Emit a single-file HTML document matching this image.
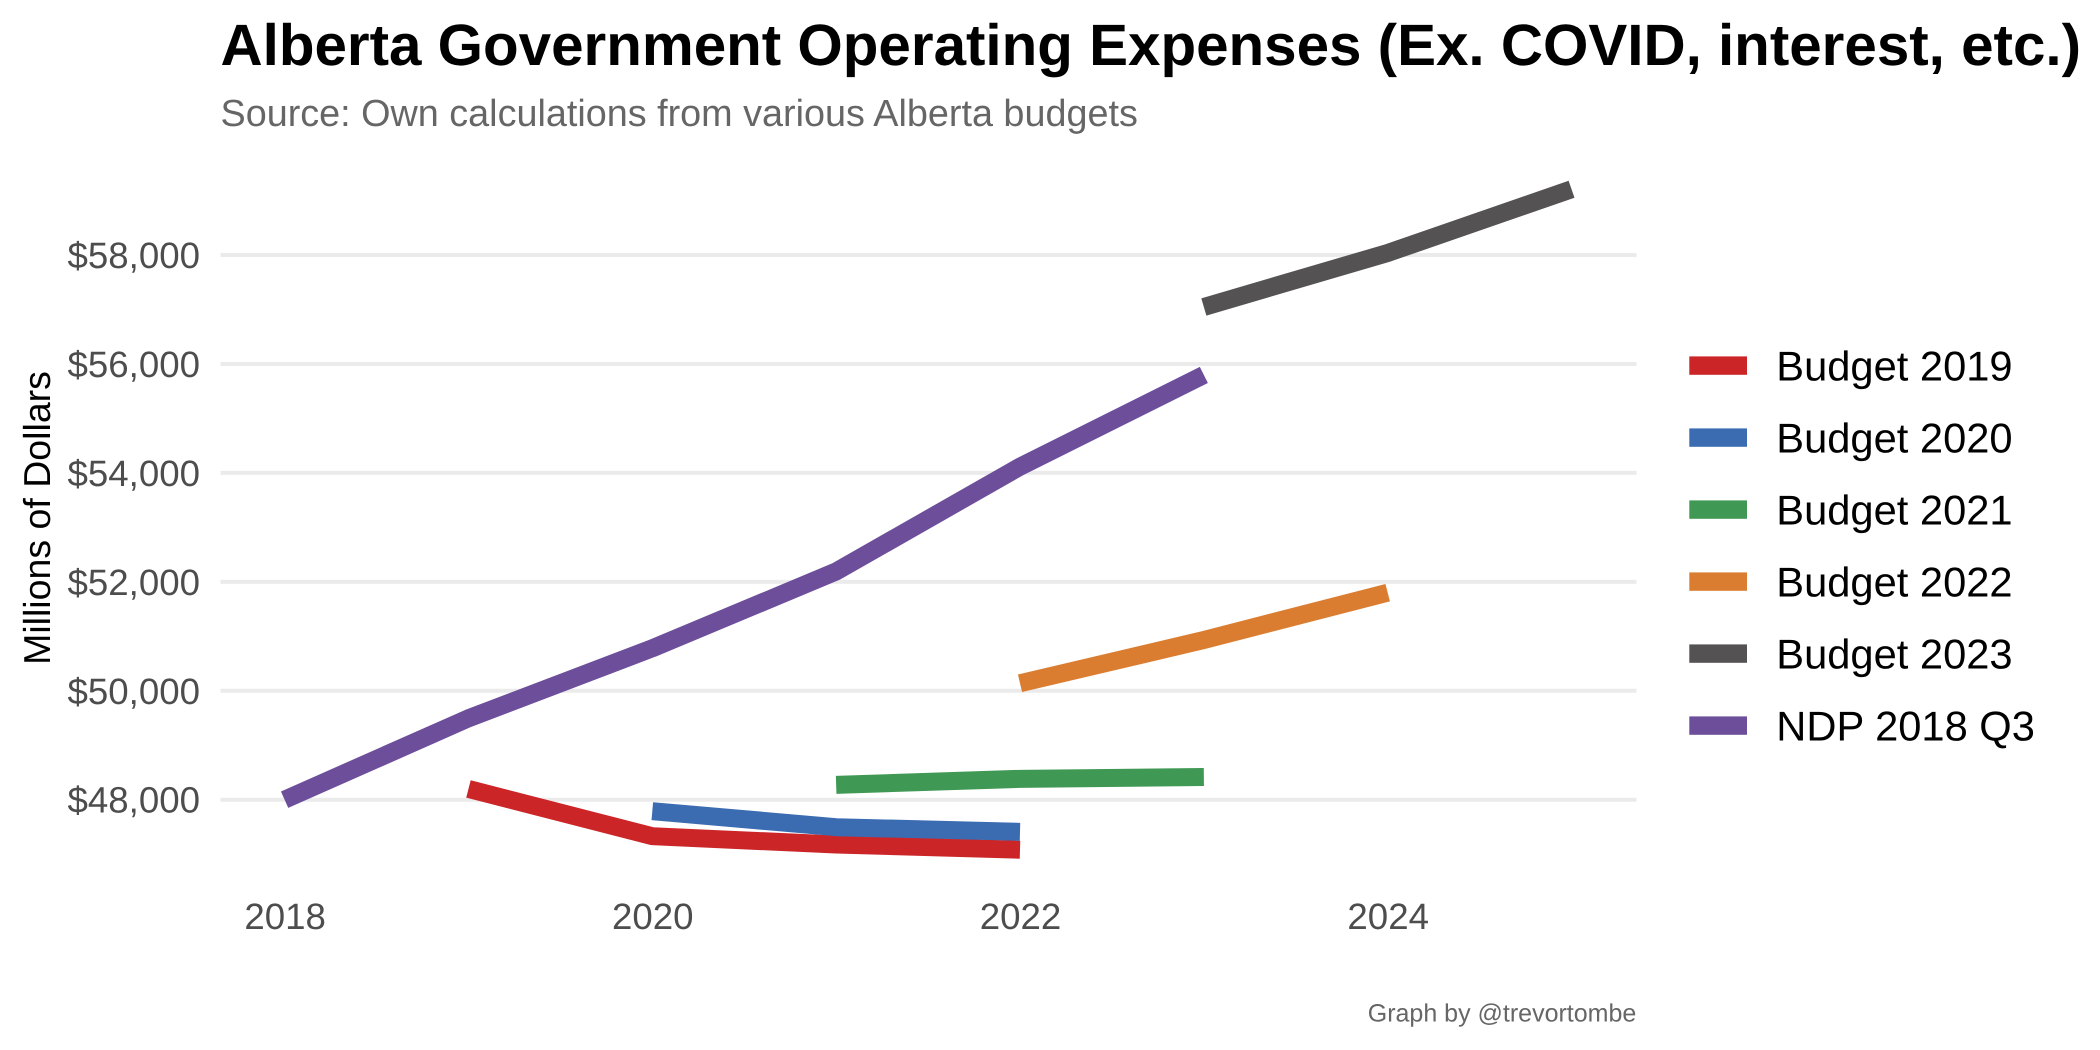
<!DOCTYPE html>
<html lang="en">
<head>
<meta charset="utf-8">
<title>Alberta Government Operating Expenses</title>
<style>
html,body{margin:0;padding:0;background:#fff;}
body{width:2100px;height:1050px;overflow:hidden;}
svg{display:block;}
text{font-family:"Liberation Sans",Arial,sans-serif;text-rendering:geometricPrecision;}
</style>
</head>
<body>
<svg id="chart" xmlns="http://www.w3.org/2000/svg" width="2100" height="1050" viewBox="0 0 2100 1050">
  <rect x="0" y="0" width="2100" height="1050" fill="#ffffff"/>
  <text x="220.5" y="65" font-size="58.33" font-weight="700" fill="#000000">Alberta Government Operating Expenses (Ex. COVID, interest, etc.)</text>
  <text x="220.5" y="126" font-size="37.78" fill="#666666">Source: Own calculations from various Alberta budgets</text>
  <text transform="translate(50,518) rotate(-90)" text-anchor="middle" font-size="37.5" fill="#000000">Millions of Dollars</text>
  <text x="1636.3" y="1021.5" text-anchor="end" font-size="25" fill="#666666">Graph by @trevortombe</text>
  <g id="grid"></g>
  <g id="yticks"></g>
  <g id="xticks"></g>
  <g id="series"></g>
  <g id="legend"></g>
</svg>
<script>
// Axis ticks
const yTickValues = [48000, 50000, 52000, 54000, 56000, 58000];
const xTickValues = [2018, 2020, 2022, 2024];

// Series data (millions of dollars by fiscal year)
const years2019 = [2019, 2020, 2021, 2022];
const values2019 = [48197, 47330, 47177, 47082];
const years2020 = [2020, 2021, 2022];
const values2020 = [47789, 47495, 47410];
const years2021 = [2021, 2022, 2023];
const values2021 = [48273, 48383, 48417];
const years2022 = [2022, 2023, 2024];
const values2022 = [50137, 50932, 51801];
const years2023 = [2023, 2024, 2025];
const values2023 = [57046, 58037, 59207];
const yearsNdp = [2018, 2019, 2020, 2021, 2022, 2023];
const valuesNdp = [48000, 49494, 50780, 52190, 54114, 55798];

const seriesNames = ['Budget 2019', 'Budget 2020', 'Budget 2021', 'Budget 2022', 'Budget 2023', 'NDP 2018 Q3'];
const seriesColors = ['#cb2528', '#3b6bb0', '#3f9853', '#db7d30', '#555254', '#6c4e9a'];
const seriesYears = [years2019, years2020, years2021, years2022, years2023, yearsNdp];
const seriesValues = [values2019, values2020, values2021, values2022, values2023, valuesNdp];

const SVG_NS = 'http://www.w3.org/2000/svg';
const panelLeft = 220.5;
const panelRight = 1636.5;

function xScale(year) {
  return 284.6 + (year - 2018) * 183.85;
}
function yScale(value) {
  return 799.7 - (value - 48000) * 0.05447;
}
function make(tag, parentId) {
  const el = document.createElementNS(SVG_NS, tag);
  document.getElementById(parentId).appendChild(el);
  return el;
}
function slug(s) {
  return s.toLowerCase().replace(/\s+/g, '-');
}

yTickValues.forEach(function (v) {
  const line = make('line', 'grid');
  
  
  line.setAttribute('x1', panelLeft);
  line.setAttribute('x2', panelRight);
  line.setAttribute('y1', yScale(v));
  line.setAttribute('y2', yScale(v));
  line.setAttribute('stroke', '#ebebeb');
  line.setAttribute('stroke-width', '4');

  const label = make('text', 'yticks');
  
  
  label.setAttribute('x', 200);
  label.setAttribute('y', yScale(v) + 13);
  label.setAttribute('text-anchor', 'end');
  label.setAttribute('font-size', '36.67');
  label.setAttribute('fill', '#4d4d4d');
  label.textContent = '$' + v.toLocaleString('en-US');
});

xTickValues.forEach(function (year) {
  const label = make('text', 'xticks');
  
  
  label.setAttribute('x', xScale(year) + 0.5);
  label.setAttribute('y', 929);
  label.setAttribute('text-anchor', 'middle');
  label.setAttribute('font-size', '36.67');
  label.setAttribute('fill', '#4d4d4d');
  label.textContent = String(year);
});

seriesNames.forEach(function (name, i) {
  const years = seriesYears[i];
  const values = seriesValues[i];
  const pts = years.map(function (year, k) {
    return xScale(year).toFixed(2) + ',' + yScale(values[k]).toFixed(2);
  }).join(' ');
  const line = make('polyline', 'series');
  
  
  line.setAttribute('points', pts);
  line.setAttribute('fill', 'none');
  line.setAttribute('stroke', seriesColors[i]);
  line.setAttribute('stroke-width', '18');
  line.setAttribute('stroke-linecap', 'butt');
  line.setAttribute('stroke-linejoin', 'round');

  const rowY = 365.6 + i * 72;
  const swatch = make('rect', 'legend');
  
  
  swatch.setAttribute('x', 1689.3);
  swatch.setAttribute('y', rowY - 9.2);
  swatch.setAttribute('width', 57.7);
  swatch.setAttribute('height', 18.4);
  swatch.setAttribute('fill', seriesColors[i]);

  const label = make('text', 'legend');
  
  
  label.setAttribute('x', 1776.3);
  label.setAttribute('y', rowY + 15);
  label.setAttribute('font-size', '41.67');
  label.setAttribute('fill', '#000000');
  label.textContent = name;
});
</script>
</body>
</html>
